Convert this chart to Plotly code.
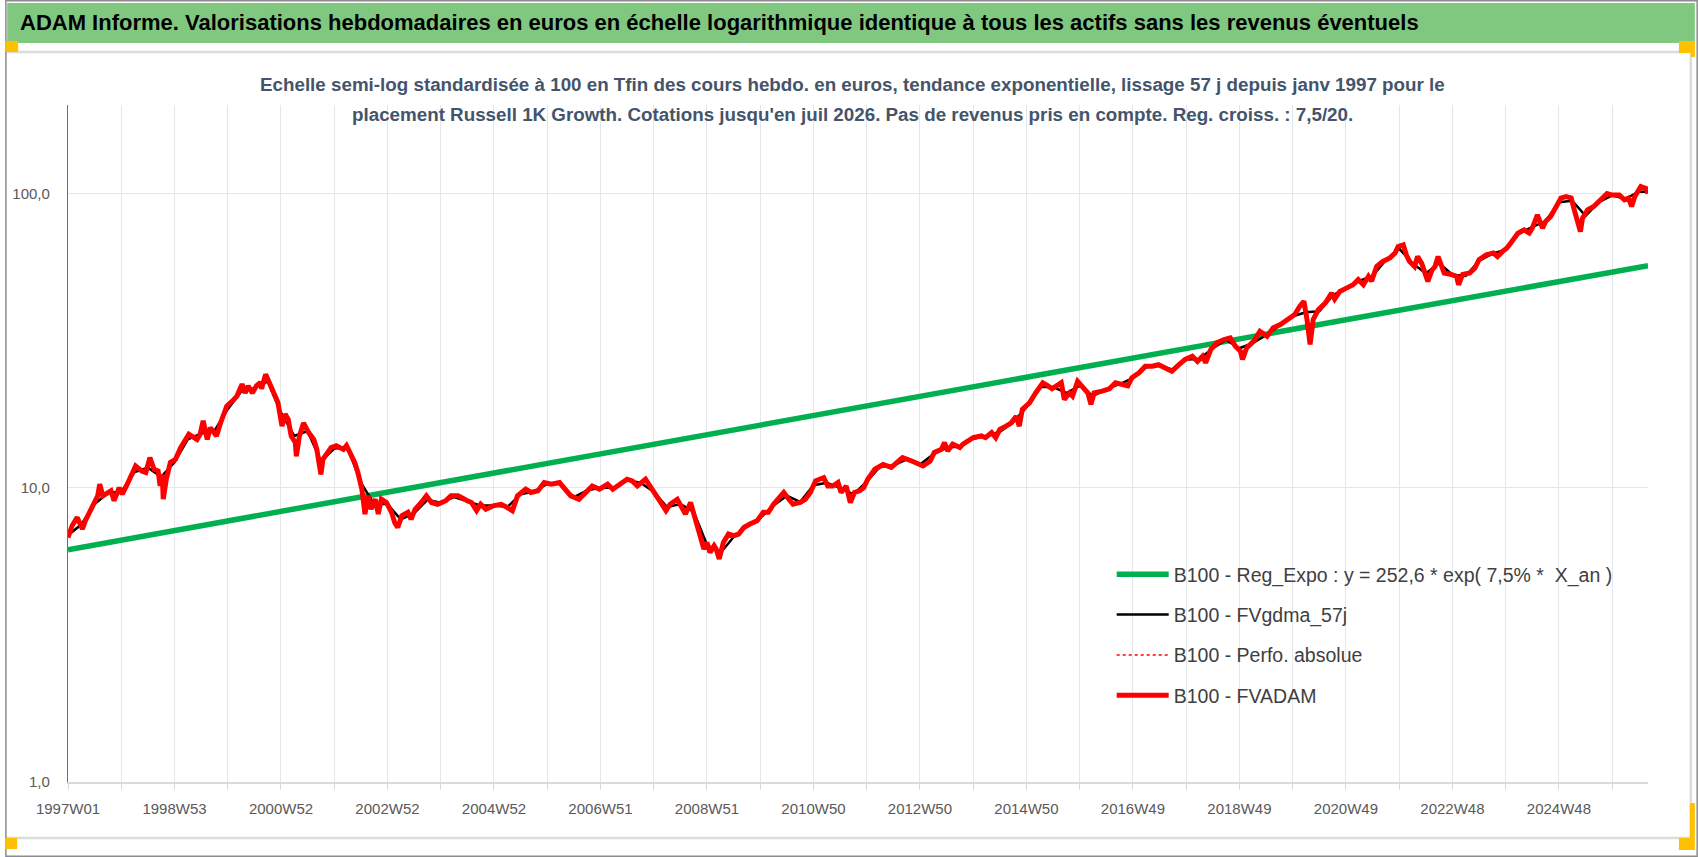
import plotly.graph_objects as go

# --- data (week index from 1997W01, values base 100) ---
weeks = [0, 4, 9, 14, 17, 24, 29, 31, 34, 42, 45, 50, 53, 58, 66, 72, 76, 80, 84, 88,
         90, 92, 93, 96, 100, 105, 110, 118, 123, 126, 129, 132, 136, 139, 142, 145, 149, 155, 162, 165,
         170, 173, 176, 180, 184, 188, 189, 193, 196, 199, 202, 205, 209, 212, 215, 218, 222, 223, 226, 230,
         235, 240, 243, 247, 249, 253, 257, 262, 269, 272, 275, 280, 283, 287, 290, 293, 296, 300, 303, 306,
         311, 316, 319, 322, 326, 332, 335, 339, 345, 350, 355, 361, 369, 374, 381, 386, 390, 394, 399, 403,
         408, 415, 423, 429, 434, 439, 447, 452, 459, 465, 472, 480, 485, 491, 499, 504, 512, 519, 527, 532,
         538, 546, 551, 556, 564, 569, 574, 579, 584, 588, 595, 600, 603, 608, 611, 614, 618, 621, 624, 627,
         631, 633, 636, 640, 645, 650, 655, 660, 666, 673, 679, 684, 689, 694, 699, 704, 708, 715, 720, 725,
         730, 734, 738, 742, 747, 752, 755, 760, 764, 768, 773, 777, 781, 788, 796, 804, 815, 824, 830, 835,
         842, 846, 853, 856, 859, 864, 871, 874, 884, 892, 896, 902, 906, 910, 916, 921, 926, 929, 932, 939,
         945, 952, 957, 961, 970, 973, 978, 981, 986, 991, 996, 999, 1002, 1010, 1017, 1023, 1030, 1035, 1039, 1046,
         1052, 1059, 1065, 1072, 1078, 1085, 1091, 1098, 1103, 1108, 1111, 1116, 1122, 1129, 1135, 1140, 1145, 1147, 1151, 1158,
         1164, 1171, 1177, 1184, 1192, 1198, 1203, 1207, 1210, 1213, 1216, 1221, 1228, 1234, 1237, 1242, 1249, 1255, 1260, 1265,
         1270, 1273, 1278, 1284, 1291, 1296, 1299, 1304, 1307, 1310, 1315, 1318, 1322, 1325, 1328, 1332, 1335, 1338, 1341, 1344,
         1351, 1356, 1358, 1362, 1369, 1374, 1378, 1385, 1392, 1396, 1401, 1405, 1409, 1416, 1422, 1427, 1430, 1435, 1440, 1443,
         1448, 1453, 1458, 1463, 1468, 1471, 1474, 1477, 1479, 1484, 1490, 1497, 1503, 1508, 1515, 1520, 1524, 1527, 1530, 1536,
         1541, 1543]

fvadam = [6.78, 7.43, 7.93, 7.24, 7.73, 8.69, 9.39, 10.28, 9.39, 9.77, 9.04, 10.0, 9.51, 10.3, 11.86, 11.4, 11.27, 12.67, 11.56, 11.4,
          10.15, 11.1, 9.15, 10.7, 12.2, 12.5, 13.7, 15.2, 14.8, 14.6, 15.2, 16.9, 14.6, 16.0, 15.5, 15.0, 16.6, 18.95, 19.95, 20.5,
          22.5, 21.0, 22.2, 21.0, 22.2, 22.8, 21.7, 24.3, 23.0, 21.8, 21.0, 19.5, 16.2, 17.8, 17.1, 15.0, 14.25, 12.8, 15.0, 16.6,
          15.4, 14.6, 13.5, 11.1, 12.5, 13.0, 13.7, 13.9, 13.5, 13.9, 13.3, 12.2, 11.3, 9.9, 8.14, 9.39, 8.46, 9.15, 8.14, 9.15,
          8.91, 8.25, 7.62, 7.33, 8.03, 8.25, 7.81, 8.45, 8.91, 9.39, 8.91, 8.79, 9.04, 9.39, 9.39, 9.15, 9.04, 8.91, 8.36, 8.79,
          8.46, 8.68, 8.79, 8.57, 8.36, 9.39, 9.89, 9.64, 9.77, 10.42, 10.28, 10.42, 10.0, 9.39, 9.14, 9.51, 10.14, 9.89, 10.28, 9.89,
          10.28, 10.69, 10.55, 10.14, 10.69, 10.0, 9.51, 8.91, 8.36, 8.79, 9.14, 8.46, 8.14, 8.91, 8.25, 7.43, 6.87, 6.19, 6.52, 6.03,
          6.35, 6.19, 5.73, 6.52, 6.96, 6.87, 6.96, 7.33, 7.53, 7.73, 8.25, 8.25, 8.79, 9.27, 9.64, 9.14, 8.79, 8.91, 9.14, 9.64,
          10.55, 10.69, 10.83, 10.14, 10.14, 10.42, 9.64, 10.14, 8.91, 9.64, 9.77, 10.0, 10.69, 11.56, 12.0, 11.73, 12.67, 12.33, 12.0, 11.86,
          12.33, 13.18, 13.52, 14.25, 13.35, 14.07, 13.7, 14.07, 14.8, 15.0, 14.8, 15.4, 14.8, 15.8, 16.2, 16.6, 17.5, 16.2, 18.5, 19.45,
          21.0, 22.75, 22.2, 21.7, 22.75, 19.95, 21.0, 20.5, 23.0, 21.9, 21.0, 19.2, 21.0, 21.3, 21.7, 22.75, 22.4, 22.2, 23.66, 24.6,
          25.9, 25.9, 26.2, 25.6, 24.9, 26.2, 27.3, 28.0, 26.9, 28.0, 26.6, 29.5, 31.1, 31.9, 32.3, 30.3, 29.1, 27.3, 29.9, 31.5,
          34.0, 32.7, 35.0, 35.9, 37.3, 38.8, 41.4, 43.05, 37.3, 30.7, 37.3, 40.3, 42.5, 45.9, 43.8, 46.5, 47.8, 49.0, 51.0, 49.0,
          52.3, 50.4, 56.5, 58.8, 60.4, 62.8, 66.1, 66.9, 61.9, 58.8, 56.5, 61.1, 57.9, 54.4, 50.3, 54.9, 56.5, 61.1, 56.5, 53.7,
          53.1, 52.3, 49.0, 53.1, 53.7, 55.8, 59.6, 61.9, 62.8, 61.1, 63.6, 65.2, 67.9, 73.4, 75.3, 73.4, 76.3, 84.7, 76.3, 80.4,
          83.6, 90.4, 96.5, 97.6, 96.5, 88.0, 81.4, 74.3, 82.5, 88.0, 90.4, 95.2, 100.0, 98.8, 98.8, 95.2, 96.5, 90.4, 97.6, 105.6,
          104.0, 100.0]

perfo_absolue = fvadam  # same path as FVADAM, drawn underneath

gdma_weeks = [0, 13, 26, 39, 52, 65, 78, 91, 104, 117, 130, 143, 156, 169, 182, 195, 208, 221, 234, 247,
              260, 273, 286, 299, 312, 325, 338, 351, 364, 377, 390, 403, 416, 429, 442, 455, 468, 481, 494, 507,
              520, 533, 546, 559, 572, 585, 598, 611, 624, 637, 650, 663, 676, 689, 702, 715, 728, 741, 754, 767,
              780, 793, 806, 819, 832, 845, 858, 871, 884, 897, 910, 923, 936, 949, 962, 975, 988, 1001, 1014, 1027,
              1040, 1053, 1066, 1079, 1092, 1105, 1118, 1131, 1144, 1157, 1170, 1183, 1196, 1209, 1222, 1235, 1248, 1261, 1274, 1287,
              1300, 1313, 1326, 1339, 1352, 1365, 1378, 1391, 1404, 1417, 1430, 1443, 1456, 1469, 1482, 1495, 1508, 1521, 1534, 1543]
fvgdma_57j = [6.9, 7.5, 8.8, 9.6, 9.7, 11.3, 11.7, 10.9, 12.2, 14.6, 15.3, 15.6, 18.5, 21.2, 21.8, 23.0, 18.0, 15.0, 15.6, 12.3,
              13.6, 13.7, 10.4, 8.8, 8.8, 7.8, 8.2, 9.1, 8.9, 9.3, 9.0, 8.7, 8.7, 8.6, 9.5, 9.7, 10.3, 10.3, 9.3, 9.8,
              10.0, 10.0, 10.6, 10.4, 9.7, 8.6, 8.8, 8.3, 6.4, 6.0, 6.8, 7.4, 7.9, 8.7, 9.4, 8.95, 10.2, 10.4, 10.0, 9.5,
              10.5, 11.8, 11.9, 12.5, 12.0, 13.0, 13.7, 13.8, 14.7, 15.0, 15.5, 16.7, 18.8, 22.0, 22.0, 21.0, 22.2, 20.5, 21.7, 22.5,
              23.6, 25.7, 26.0, 25.2, 27.3, 27.4, 29.8, 31.8, 29.8, 31.0, 33.0, 35.6, 38.3, 39.5, 39.8, 45.0, 47.6, 50.5, 52.5, 59.5,
              65.0, 58.0, 53.5, 58.0, 53.0, 52.5, 59.0, 62.5, 64.5, 73.0, 77.0, 80.5, 93.5, 94.5, 84.0, 93.5, 98.5, 96.0, 101.5, 101.5]

reg_weeks = [0, 387, 776, 1166, 1543]
reg_expo = [6.16, 10.8, 18.9, 33.1, 56.9]

x_labels = ["1997W01", "1998W53", "2000W52", "2002W52", "2004W52", "2006W51", "2008W51", "2010W50",
            "2012W50", "2014W50", "2016W49", "2018W49", "2020W49", "2022W48", "2024W48"]
n_weeks = 1544

# --- page geometry ---
W, H = 1698, 857
L, R, T, B = 63, 50, 105, 75
PW, PH = W - L - R, H - T - B


def px(x):
    return (x - L) / PW


def py(y):
    return (H - B - y) / PH


FONT = "Liberation Sans"

fig = go.Figure()
fig.add_trace(go.Scatter(x=reg_weeks, y=reg_expo, mode="lines", legendgroup="a",
                         name="B100 - Reg_Expo : y = 252,6 * exp( 7,5% * \u00a0X_an )",
                         line=dict(color="#00B050", width=5.5)))
fig.add_trace(go.Scatter(x=gdma_weeks, y=fvgdma_57j, mode="lines", legendgroup="b",
                         name="B100 - FVgdma_57j", line=dict(color="black", width=2.5)))
fig.add_trace(go.Scatter(x=weeks, y=perfo_absolue, mode="lines", legendgroup="c",
                         name="B100 - Perfo. absolue", line=dict(color="#FF0000", width=1.5, dash="dot")))
fig.add_trace(go.Scatter(x=weeks, y=fvadam, mode="lines", legendgroup="d",
                         name="B100 - FVADAM", line=dict(color="#FF0000", width=5)))

tickvals = list(range(0, n_weeks, 52))
ticktext = [x_labels[i // 2] if i % 2 == 0 else "" for i in range(len(tickvals))]

shapes = [
    # green title band
    dict(type="rect", xref="paper", yref="paper", x0=px(2), x1=px(1695), y0=py(43), y1=py(3),
         fillcolor="#80C880", line=dict(width=0), layer="below"),
    # chart area frame
    dict(type="line", xref="paper", yref="paper", x0=px(0), x1=px(1691), y0=py(52), y1=py(52),
         line=dict(color="#DCDCDC", width=2.5)),
    dict(type="line", xref="paper", yref="paper", x0=px(0), x1=px(1691), y0=py(838), y1=py(838),
         line=dict(color="#DCDCDC", width=2.5)),
    dict(type="line", xref="paper", yref="paper", x0=px(1691), x1=px(1691), y0=py(52), y1=py(838),
         line=dict(color="#DCDCDC", width=2.5)),
    # outer border
    dict(type="rect", xref="paper", yref="paper", x0=px(0.7), x1=px(1697.3), y0=py(856.3), y1=py(0.7),
         line=dict(color="#8C8C8C", width=1.5)),
]
for x0, x1, y0, y1 in [(0, 13, 41, 52), (1679, 1695, 41, 53), (1691, 1695, 53, 57),
                       (0, 12, 838, 849), (1690, 1695, 803, 838), (1679, 1695, 838, 850)]:
    shapes.append(dict(type="rect", xref="paper", yref="paper", x0=px(x0), x1=px(x1),
                       y0=py(y1), y1=py(y0), fillcolor="#FFC000", line=dict(width=0)))

annotations = [
    dict(xref="paper", yref="paper", x=px(13), y=py(23), xanchor="left", yanchor="middle", showarrow=False,
         text="<b>ADAM Informe. Valorisations hebdomadaires en euros en échelle logarithmique identique "
              "à tous les actifs sans les revenus éventuels</b>",
         font=dict(family=FONT, size=22, color="black")),
    dict(xref="paper", yref="paper", x=px(850), y=py(84), xanchor="center", yanchor="middle", showarrow=False,
         text="<b>Echelle semi-log standardisée à 100 en Tfin des cours hebdo. en euros, tendance exponentielle, "
              "lissage 57 j depuis janv 1997 pour le</b>",
         font=dict(family=FONT, size=18.8, color="#44546A")),
    dict(xref="paper", yref="paper", x=px(850), y=py(114), xanchor="center", yanchor="middle", showarrow=False,
         text="<b>placement Russell 1K Growth. Cotations jusqu'en juil 2026. Pas de revenus pris en compte. "
              "Reg. croiss. : 7,5/20.</b>",
         font=dict(family=FONT, size=18.8, color="#44546A")),
]

fig.update_layout(
    width=W, height=H,
    margin=dict(l=L, r=R, t=T, b=B),
    paper_bgcolor="white", plot_bgcolor="white",
    font=dict(family=FONT, color="#595959"),
    showlegend=True,
    legend=dict(x=px(1110), y=py(555), xanchor="left", yanchor="top",
                bgcolor="rgba(0,0,0,0)", font=dict(family=FONT, size=19.5, color="#404040"),
                tracegroupgap=12, itemwidth=52),
    shapes=shapes,
    annotations=annotations,
    xaxis=dict(range=[0, n_weeks - 1], tickvals=tickvals, ticktext=ticktext,
               showgrid=True, gridcolor="#E3E6EC", gridwidth=1.3,
               showline=True, linecolor="#D9D9D9", linewidth=2,
               ticks="outside", ticklen=6, tickcolor="#D9D9D9", tickwidth=1.3,
               ticklabelstandoff=6, zeroline=False,
               tickfont=dict(family=FONT, size=15, color="#595959")),
    yaxis=dict(type="log", range=[0, 2.301], tickvals=[1, 10, 100], ticktext=["1,0", "10,0", "100,0"],
               showgrid=True, gridcolor="#E3E6EC", gridwidth=1.3,
               showline=True, linecolor="#4472C4", linewidth=1.2,
               ticks="", ticklabelstandoff=14, zeroline=False,
               tickfont=dict(family=FONT, size=15, color="#595959")),
)

fig.write_html("out.html", config={"displayModeBar": False},
               post_script="document.body.style.margin='0';document.body.style.overflow='hidden';")
